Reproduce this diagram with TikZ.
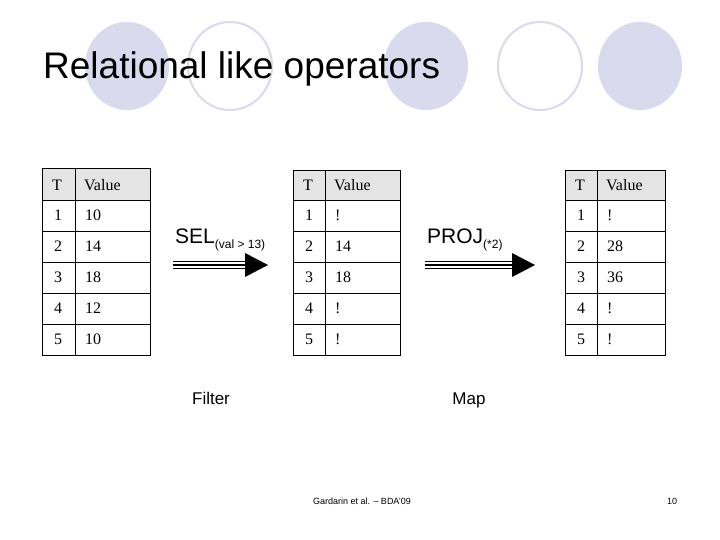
\documentclass[tikz,border=0pt]{standalone}
\usepackage{fontspec}
\setmainfont{Liberation Sans}
\newfontfamily\tabfont{Liberation Serif}
\begin{document}
\begin{tikzpicture}[x=1pt,y=-1pt,
  fillc/.style={fill=lav,draw=none},
  openc/.style={draw=lav,line width=2pt,fill=white},
  cell/.style={draw=black,line width=0.8pt},
  hdr/.style={cell,fill=hgray},
  ctext/.style={font=\tabfont\fontsize{16}{18}\selectfont,anchor=west,inner sep=0pt},
  oplabel/.style={font=\fontsize{21}{24}\selectfont,anchor=south west,inner sep=0pt},
  caption/.style={font=\fontsize{17}{20}\selectfont,anchor=base,inner sep=0pt}]
\definecolor{lav}{RGB}{218,218,238}
\definecolor{hgray}{RGB}{228,228,228}
\useasboundingbox (0,0) rectangle (720,540);
\fill[white] (0,0) rectangle (720,540);
% decorative ellipses
\path[fillc] (127,66) ellipse [x radius=42,y radius=44];
\path[openc] (230,66) ellipse [x radius=42,y radius=44];
\path[fillc] (426,66) ellipse [x radius=42,y radius=44];
\path[openc] (540,66) ellipse [x radius=42,y radius=44];
\path[fillc] (640,66) ellipse [x radius=42,y radius=44];
\node[font=\fontsize{37}{40}\selectfont,anchor=west,inner sep=0pt] (title) at (43,69) {Relational like operators};
% tables
\newcommand\drawtab[6]{%
  \path[hdr] (#1,#4) rectangle (#3,200);
  \draw[cell] (#1,#4) rectangle (#3,355);
  \draw[cell] (#2,#4) -- (#2,355);
  \foreach \yy in {200,231,262,293,324}{\draw[cell] (#1,\yy) -- (#3,\yy);}
  \node[ctext] (#5h1) at (#1+10,185) {T};
  \node[ctext] (#5h2) at (#2+9,185) {Value};
  \foreach \v [count=\i] in {#6}{%
    \node[ctext] (#5r\i a) at (#1+12,184+31*\i) {\i};
    \node[ctext] (#5r\i b) at (#2+10,184+31*\i) {\v};}
}
\drawtab{42}{75}{150}{168}{ta}{10,14,18,12,10}
\drawtab{293}{325}{400}{170}{tb}{!,14,18,!,!}
\drawtab{565}{597}{665}{170}{tc}{!,28,36,!,!}
% arrows
\coordinate (s1) at (173,265); \coordinate (s2) at (245,265); \coordinate (s3) at (268,265);
\coordinate (p1) at (425,265); \coordinate (p2) at (512,265); \coordinate (p3) at (535,265);
\foreach \a/\b/\c in {s1/s2/s3,p1/p2/p3}{
  \foreach \d in {-3.5,0,3.5}{\draw[line width=1.2pt] ([yshift=\d]\a) -- ([yshift=\d]\b);}
  \fill ([yshift=-12]\b) -- (\c) -- ([yshift=12]\b) -- cycle;}
\node[oplabel] (sel) at (175,251) {SEL\raisebox{-0.45ex}{\fontsize{12}{14}\selectfont(val > 13)}};
\node[oplabel] (proj) at (427,251) {PROJ\raisebox{-0.45ex}{\fontsize{12}{14}\selectfont(*2)}};
\node[caption] (filter) at (211,404) {Filter};
\node[caption] (map) at (469,404) {Map};
\node[font=\fontsize{9}{11}\selectfont] (foot) at (362,501) {Gardarin et al. -- BDA'09};
\node[font=\fontsize{9}{11}\selectfont] (page) at (672,501) {10};
\end{tikzpicture}
\end{document}
